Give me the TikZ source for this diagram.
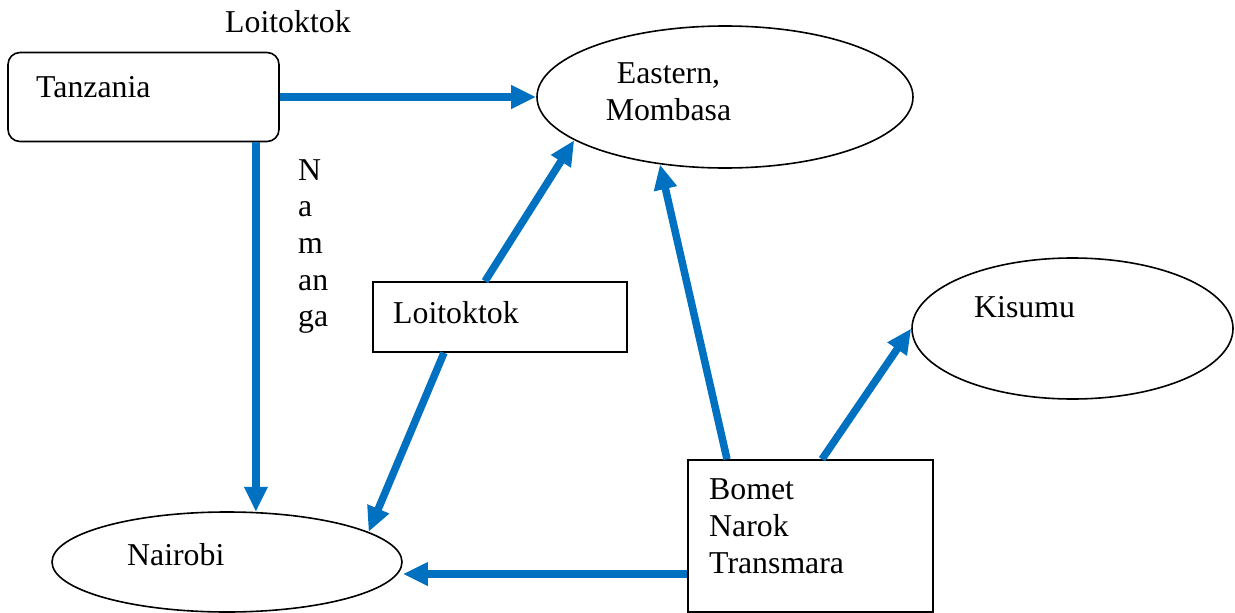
\documentclass[tikz,border=0pt]{standalone}
\usepackage{fontspec}
\setmainfont{Liberation Serif}
\usetikzlibrary{arrows.meta,shapes.geometric}
\definecolor{routeblue}{HTML}{0070C0}

\begin{document}
\begin{tikzpicture}[x=1pt,y=-1pt]
        \tikzstyle{every node} = [font=\fontsize{31.8}{36.7}\selectfont, inner sep=0pt]
        \tikzstyle{box} = [draw, line width=1.6pt, rectangle]
        \tikzstyle{oval} = [draw, line width=1.6pt, ellipse]
        \tikzstyle{route} = [draw=routeblue, line width=7.5pt, -{Triangle[length=25pt,width=22pt]}]
        \useasboundingbox (0,0) rectangle (1235,613);

        % regions
        \node[box, rounded corners=12pt, minimum width=271pt, minimum height=89pt] (tz) at (143.5,97) {};
        \node[oval, minimum width=376pt, minimum height=142pt] (ea) at (725,97) {};
        \node[box, minimum width=254pt, minimum height=70pt] (lt) at (500,317) {};
        \node[oval, minimum width=321pt, minimum height=141pt] (ks) at (1072.5,328.5) {};
        \node[oval, minimum width=350pt, minimum height=100pt] (nb) at (227,562) {};
        \node[box, minimum width=245pt, minimum height=152pt] (bn) at (810.5,536) {};

        % labels (multi-line ones sit on their last baseline)
        \node[anchor=base west] (tzlbl) at (36,97.5) {Tanzania};
        \node[anchor=base west] (toplbl) at (225,32) {Loitoktok};
        \node[anchor=base, align=center] (ealbl) at (668.5,120) {Eastern,\\Mombasa};
        \node[anchor=base west] (ltlbl) at (393,323) {Loitoktok};
        \node[anchor=base west] (kslbl) at (974,317) {Kisumu};
        \node[anchor=base west] (nblbl) at (127,565) {Nairobi};
        \node[anchor=base west, align=left] (bnlbl) at (709,573) {Bomet\\Narok\\Transmara};
        \foreach \ltr [count=\i] in {N,a,m,an,ga}
            \node[anchor=base west] (nm\i) at (298,143.3+36.7*\i) {\ltr};

        % routes
        \coordinate (bnout) at ([yshift=-38pt]bn.west);
        \draw[route] (tz.east) -- (ea.west);
        \draw[route] (tz.south -| nb.60) -- (nb.60);
        \draw[route] ([xshift=-15pt]lt.north) -- (ea.196);
        \draw[route] ([xshift=-56pt]lt.south) -- (nb.12);
        \draw[route] ([xshift=-83.5pt]bn.north) -- (ea.226);
        \draw[route] ([xshift=11.5pt]bn.north) -- (ks.west);
        \draw[route] (bnout) -- (bnout -| nb.east);
\end{tikzpicture}
\end{document}
